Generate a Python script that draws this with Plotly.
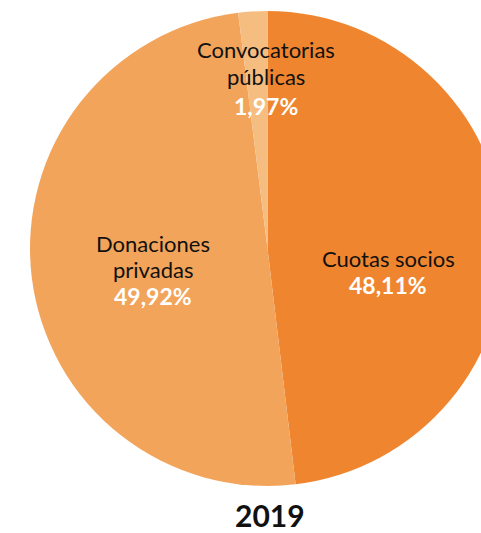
import plotly.graph_objects as go

# Data
categories = ["Cuotas socios", "Donaciones<br>privadas", "Convocatorias<br>públicas"]
values = [48.11, 49.92, 1.97]
value_labels = ["48,11%", "49,92%", "1,97%"]
colors = ["#F0852F", "#F2A45A", "#F5BD80"]
year_label = "2019"

W, H = 505, 533
cx, cy, r = 267.5, 248.5, 237.5

fig = go.Figure(go.Pie(
    labels=categories,
    values=values,
    sort=False,
    direction="clockwise",
    rotation=0,
    marker=dict(colors=colors, line=dict(width=0)),
    textinfo="none",
    hoverinfo="label+value",
    domain=dict(x=[(cx - r) / W, (cx + r) / W], y=[(H - cy - r) / H, (H - cy + r) / H]),
    showlegend=False,
))

# label layout: (center x, y of each line in px)
label_pos = [(388, [258, 285]), (153, [243, 269, 296]), (266, [50, 77, 106])]
for cat, vl, (px, ys) in zip(categories, value_labels, label_pos):
    lines = cat.split("<br>")
    for ln, py in zip(lines, ys):
        fig.add_annotation(
            x=px / W, y=(H - py) / H, xref="paper", yref="paper",
            xanchor="center", yanchor="middle", showarrow=False,
            text=ln, font=dict(family="Lato", size=22, color="#111111"),
        )
    fig.add_annotation(
        x=px / W, y=(H - ys[-1]) / H, xref="paper", yref="paper",
        xanchor="center", yanchor="middle", showarrow=False,
        text=f"<b>{vl}</b>", font=dict(family="Lato", size=23, color="white"),
    )

fig.add_annotation(
    x=270 / W, y=(H - 515) / H, xref="paper", yref="paper",
    xanchor="center", yanchor="middle", showarrow=False,
    text=f"<b>{year_label}</b>",
    font=dict(family="Lato", size=30, color="#111111"),
)

fig.update_layout(
    width=W, height=H,
    margin=dict(l=0, r=0, t=0, b=0),
    paper_bgcolor="white",
    plot_bgcolor="white",
)

fig.write_html("out.html", config={"displayModeBar": False},
               post_script="document.body.style.margin='0';document.body.style.overflow='hidden';")
